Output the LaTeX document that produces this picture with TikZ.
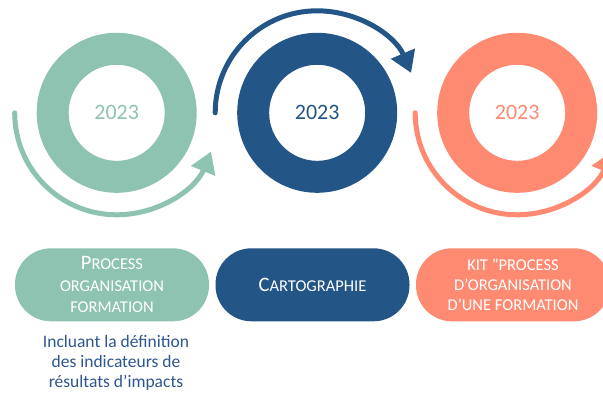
\documentclass[tikz,border=0pt]{standalone}
\usepackage{fontspec}
\setmainfont{Carlito}
\usetikzlibrary{arrows.meta,positioning}
\definecolor{color_8fc3b1}{rgb}{0.561,0.765,0.694}
\definecolor{color_235587}{rgb}{0.137,0.333,0.529}
\definecolor{color_ff8a72}{rgb}{1,0.541,0.447}
\definecolor{color_2f5597}{rgb}{0.184,0.333,0.557}
\newcommand{\initiale}[1]{{\fontsize{20.5}{20}\selectfont #1}}

\begin{document}
\begin{tikzpicture}[x=1pt,y=1pt,
	anneau/.style={circle, draw=#1, line width=32pt, minimum size=128pt, inner sep=0pt,
		text=#1, font=\fontsize{22}{24}\selectfont},
	pilule/.style={rectangle, fill=#1, rounded corners=36pt, minimum width=194pt,
		minimum height=73pt, inner sep=0pt, text=white, align=center},
	fleche/.style={draw=#1, line width=5pt, line cap=round,
		-{Triangle[width=25pt,length=21pt]}}]
	% Cadre de la page
	\useasboundingbox (0,0) rectangle (603,392);
	\clip (0,0) rectangle (603,392);
	
	% Les trois anneaux
	\node[anneau=color_8fc3b1] (greenring) at (116.7,279.2) {2023};
	\node[anneau=color_235587] (bluering) at (317.2,279.2) {2023};
	\node[anneau=color_ff8a72] (orangering) at (517.2,279.2) {2023};
	
	% Fleches autour des anneaux
	\draw[fleche=color_8fc3b1] ([xshift=-102pt]greenring.center)
		arc[start angle=180, end angle=337.7, radius=102pt];
	\draw[fleche=color_235587] ([xshift=-102pt]bluering.center)
		arc[start angle=180, end angle=23, radius=102pt];
	\draw[fleche=color_ff8a72] ([xshift=-102pt]orangering.center)
		arc[start angle=180, end angle=337.7, radius=102pt];
	
	% Les trois pilules
	\node[pilule=color_8fc3b1, font=\fontsize{16.5}{21.5}\selectfont] (greenpill) at (112,107.2)
		{\initiale{P}ROCESS\\ORGANISATION\\FORMATION};
	\node[pilule=color_235587, font=\fontsize{16.5}{20}\selectfont] (bluepill) at (312.5,107.2)
		{\initiale{C}ARTOGRAPHIE};
	\node[pilule=color_ff8a72, font=\fontsize{16.5}{20}\selectfont] (orangepill) at (513,107.2)
		{KIT "PROCESS\\D'ORGANISATION\\D'UNE FORMATION};
	
	% Texte sous la premiere pilule
	\node[below=14pt of greenpill, xshift=4pt, inner sep=0pt, align=center, text=color_2f5597,
		font=\fontsize{17.5}{20}\selectfont] (note)
		{Incluant la définition\\des indicateurs de\\résultats d’impacts};
\end{tikzpicture}
\end{document}
